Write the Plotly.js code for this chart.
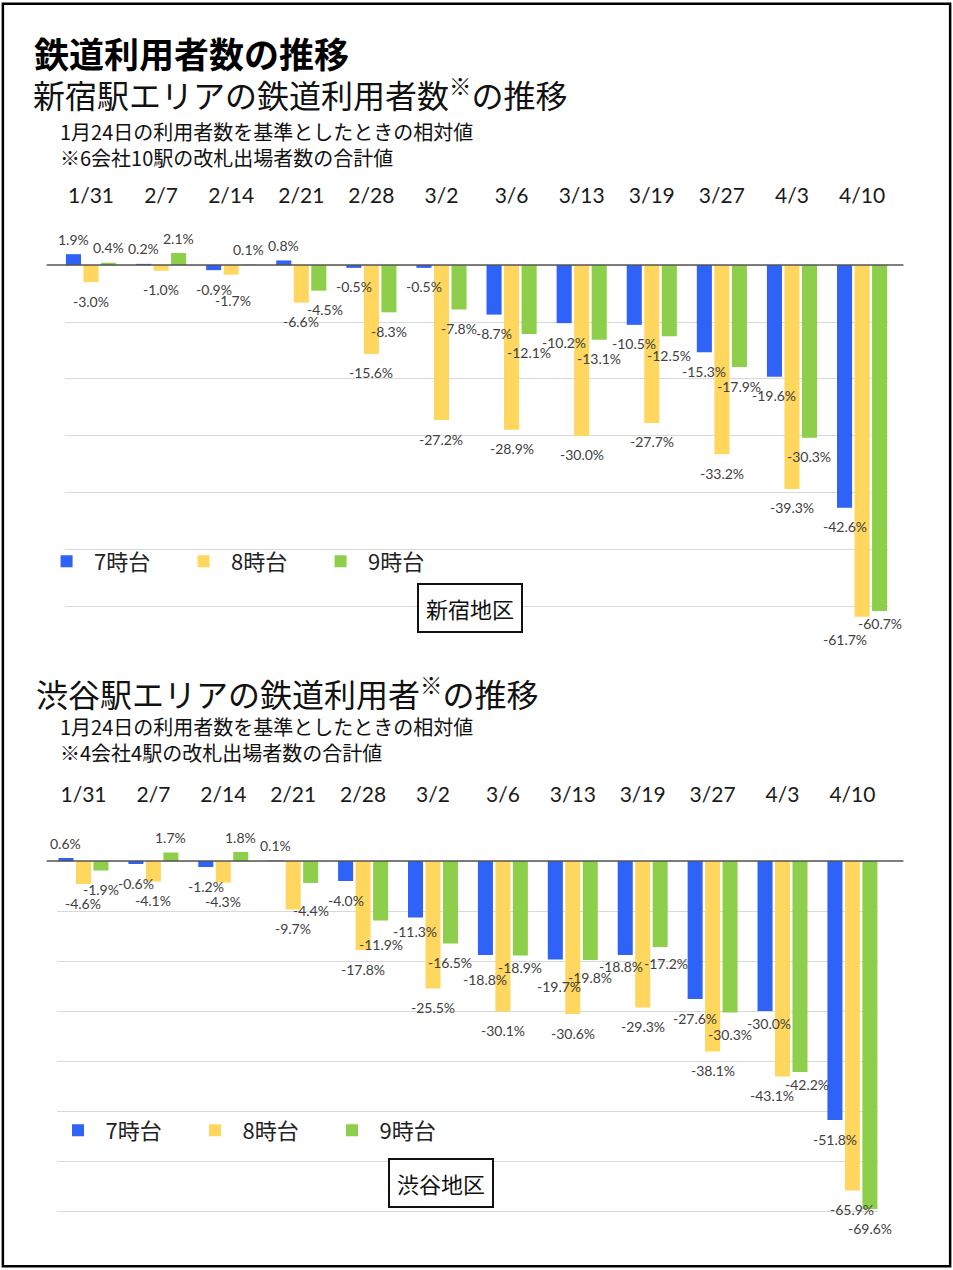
<!DOCTYPE html>
<html>
<head>
<meta charset="utf-8">
<script src="https://cdn.plot.ly/plotly-3.0.1.min.js"></script>
<style>
body { margin: 0; background: #fff; }
#chart { width: 953px; height: 1270px; }
</style>
</head>
<body>
<div id="chart"></div>
<script>
// 比較日
const dates = ["1/31", "2/7", "2/14", "2/21", "2/28", "3/2", "3/6", "3/13", "3/19", "3/27", "4/3", "4/10"];
const seriesNames = ["7時台", "8時台", "9時台"];

// 新宿地区 (1月24日比, %)
const shinjuku7 = [1.9, 0.2, -0.9, 0.8, -0.5, -0.5, -8.7, -10.2, -10.5, -15.3, -19.6, -42.6];
const shinjuku8 = [-3.0, -1.0, -1.7, -6.6, -15.6, -27.2, -28.9, -30.0, -27.7, -33.2, -39.3, -61.7];
const shinjuku9 = [0.4, 2.1, 0.1, -4.5, -8.3, -7.8, -12.1, -13.1, -12.5, -17.9, -30.3, -60.7];

// 渋谷地区 (1月24日比, %)
const shibuya7 = [0.6, -0.6, -1.2, 0.1, -4.0, -11.3, -18.8, -19.7, -18.8, -27.6, -30.0, -51.8];
const shibuya8 = [-4.6, -4.1, -4.3, -9.7, -17.8, -25.5, -30.1, -30.6, -29.3, -38.1, -43.1, -65.9];
const shibuya9 = [-1.9, 1.7, 1.8, -4.4, -11.9, -16.5, -18.9, -19.8, -17.2, -30.3, -42.2, -69.6];

const colores = ["#2F62F7", "#FFD75E", "#8DCF4B"];
const fuenteJp = '"Noto Sans CJK JP", sans-serif';
const fuenteNum = 'Lato, "Noto Sans", sans-serif';

// ajustes manuales de etiquetas que se pisan: "serie-indice": [dx, dy] en px
const ajustesShinjuku = { "1-2": [2, 7], "2-3": [6, 0], "1-11": [-17, 4], "2-11": [0, -6] };
const ajustesShibuya = {
    "2-3": [0, 8], "2-4": [0, 5], "0-5": [0, -5], "0-6": [0, 5], "2-6": [0, -7],
    "0-7": [4, 8], "2-7": [0, -2], "0-8": [-4, -8], "2-8": [6, -3], "2-9": [0, 3],
    "0-10": [4, -7], "1-10": [-11, 0], "2-10": [7, -7]
};

function crearBarra(valores, i, xa, ya, leyenda) {
    return {
        type: "bar",
        x: dates,
        y: valores,
        name: seriesNames[i],
        xaxis: xa,
        yaxis: ya,
        legend: leyenda,
        marker: { color: colores[i] },
        hoverinfo: "x+y+name"
    };
}

// etiquetas de datos como anotaciones para que queden encima de todas las barras
function crearEtiquetas(series, xa, ya, ajustes) {
    let lista = [];
    series.forEach((valores, i) => {
        valores.forEach((v, k) => {
            let aj = ajustes[i + "-" + k] || [0, 0];
            lista.push({
                xref: xa, yref: ya, x: dates[k], y: v,
                text: v.toFixed(1) + "%",
                showarrow: false,
                xanchor: "center", yanchor: "middle",
                xshift: (i - 1) * 17.5 + aj[0],
                yshift: v < 0 ? -19 - aj[1] : 15 - aj[1],
                font: { family: fuenteNum, size: 14, color: "#404040" }
            });
        });
    });
    return lista;
}

const data = [
    crearBarra(shinjuku7, 0, "x", "y", "legend"),
    crearBarra(shinjuku8, 1, "x", "y", "legend"),
    crearBarra(shinjuku9, 2, "x", "y", "legend"),
    crearBarra(shibuya7, 0, "x2", "y2", "legend2"),
    crearBarra(shibuya8, 1, "x2", "y2", "legend2"),
    crearBarra(shibuya9, 2, "x2", "y2", "legend2")
];

const ejeX = {
    type: "category",
    side: "top",
    showgrid: false,
    showline: false,
    ticks: "",
    tickfont: { family: fuenteNum, size: 21, color: "#1a1a1a" }
};
const ejeY = {
    dtick: 10,
    showticklabels: false,
    showgrid: true,
    gridcolor: "#d9d9d9",
    gridwidth: 1,
    zeroline: false,
    showline: false,
    ticks: ""
};

function texto(t, x, y, size, extra) {
    return Object.assign({
        text: t, xref: "paper", yref: "paper", x: x, y: y,
        xanchor: "left", yanchor: "middle", showarrow: false, align: "left",
        font: { family: fuenteJp, size: size, color: "#111" }
    }, extra || {});
}

const leyendaBase = {
    orientation: "h",
    xanchor: "left",
    yanchor: "top",
    bgcolor: "rgba(0,0,0,0)",
    font: { family: fuenteJp, size: 22, color: "#222" },
    itemwidth: 45,
    entrywidth: 77,
    entrywidthmode: "pixels",
    traceorder: "normal"
};

const layout = {
    width: 953,
    height: 1270,
    margin: { l: 0, r: 0, t: 0, b: 0 },
    paper_bgcolor: "#fff",
    plot_bgcolor: "rgba(0,0,0,0)",
    barmode: "group",
    bargap: 0.25,
    bargroupgap: 0.14,
    showlegend: true,
    xaxis: Object.assign({}, ejeX, { anchor: "y", domain: [0.0682, 0.9318], range: [-0.371, 11.37] }),
    yaxis: Object.assign({}, ejeY, { anchor: "x", domain: [0.4772, 0.8362], range: [-70, 10] }),
    xaxis2: Object.assign({}, ejeX, { anchor: "y2", domain: [0.0598, 0.9213], range: [-0.379, 11.366], ticklabelstandoff: 4 }),
    yaxis2: Object.assign({}, ejeY, { anchor: "x2", domain: [0.00709, 0.3614], range: [-80, 10] }),
    legend: Object.assign({}, leyendaBase, { x: 0.041, y: 0.5745 }),
    legend2: Object.assign({}, leyendaBase, { x: 0.053, y: 0.1265 }),
    shapes: [
        // 外枠
        { type: "rect", xref: "paper", yref: "paper", x0: 0.003, x1: 0.997, y0: 0.003, y1: 0.997,
          line: { color: "#000", width: 2.5 } },
        // 0% の基準線
        { type: "line", xref: "paper", yref: "y", x0: 0.049, x1: 0.948, y0: 0, y1: 0,
          line: { color: "#555", width: 1.5 } },
        { type: "line", xref: "paper", yref: "y2", x0: 0.049, x1: 0.948, y0: 0, y1: 0,
          line: { color: "#555", width: 1.5 } }
    ],
    annotations: [
        texto("<b>鉄道利用者数の推移</b>", 0.034, 0.959, 35, { font: { family: fuenteJp, size: 35, color: "#000" } }),
        texto("新宿駅エリアの鉄道利用者数<sup>※</sup>の推移", 0.033, 0.927, 32),
        texto("1月24日の利用者数を基準としたときの相対値<br>※6会社10駅の改札出場者数の合計値", 0.061, 0.8863, 20),
        texto("渋谷駅エリアの鉄道利用者<sup>※</sup>の推移", 0.036, 0.4551, 32),
        texto("1月24日の利用者数を基準としたときの相対値<br>※4会社4駅の改札出場者数の合計値", 0.061, 0.4177, 20),
        texto("新宿地区", 0.4937, 0.5213, 22, { xanchor: "center", bordercolor: "#111", borderwidth: 2, borderpad: 7, bgcolor: "#fff" }),
        texto("渋谷地区", 0.4628, 0.0685, 22, { xanchor: "center", bordercolor: "#111", borderwidth: 2, borderpad: 7, bgcolor: "#fff" })
    ]
        .concat(crearEtiquetas([shinjuku7, shinjuku8, shinjuku9], "x", "y", ajustesShinjuku))
        .concat(crearEtiquetas([shibuya7, shibuya8, shibuya9], "x2", "y2", ajustesShibuya))
};

Plotly.newPlot("chart", data, layout, { displayModeBar: false, staticPlot: true });
</script>
</body>
</html>
